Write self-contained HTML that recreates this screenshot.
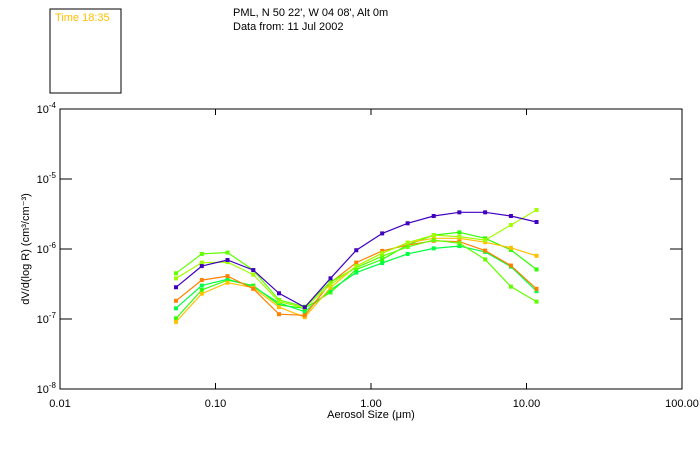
<!DOCTYPE html>
<html><head><meta charset="utf-8"><style>
html,body{margin:0;padding:0;background:#fff;}
svg{display:block;font-family:"Liberation Sans",sans-serif;}
</style></head><body>
<svg id="chart" width="700" height="450">
<rect x="50" y="9" width="71" height="84" fill="none" stroke="#000"/>
<text x="55" y="21" font-size="11" fill="#ffc000">Time 18:35</text>
<text x="233" y="16" font-size="11" fill="#000">PML, N 50 22', W 04 08', Alt 0m</text>
<text x="233" y="30" font-size="11" fill="#000">Data from: 11 Jul 2002</text>
<rect x="60" y="109" width="622" height="280" fill="none" stroke="#000"/>
<g id="axes"></g>
<g id="series"></g>
<text x="371" y="418" font-size="11" text-anchor="middle">Aerosol Size (μm)</text>
<text transform="translate(29,249) rotate(-90)" font-size="11" text-anchor="middle">dV/d(log R) (cm³/cm⁻³)</text>
</svg>
<script>
const sizes=[0.0557,0.0816,0.1195,0.175,0.256,0.375,0.549,0.804,1.18,1.72,2.53,3.70,5.42,7.94,11.6];
const xTicks=[0.01,0.1,1,10,100];
const xTickLabels=["0.01","0.10","1.00","10.00","100.00"];
const yTicks=[1e-4,1e-5,1e-6,1e-7,1e-8];
const yTickExps=["-4","-5","-6","-7","-8"];
const purple=[2.84e-7,5.7e-7,6.97e-7,5.0e-7,2.33e-7,1.47e-7,3.81e-7,9.6e-7,1.67e-6,2.33e-6,2.96e-6,3.34e-6,3.34e-6,2.96e-6,2.43e-6];
const yellowGreen=[3.8e-7,6.4e-7,6.5e-7,4.3e-7,1.77e-7,1.44e-7,3.1e-7,5.7e-7,8.7e-7,1.23e-6,1.58e-6,1.50e-6,1.34e-6,2.20e-6,3.61e-6];
const lime=[4.5e-7,8.5e-7,8.9e-7,5.0e-7,1.87e-7,1.50e-7,3.4e-7,5.4e-7,7.9e-7,1.07e-6,1.34e-6,1.21e-6,7.1e-7,2.9e-7,1.77e-7];
const springGreen=[1.42e-7,3.0e-7,3.7e-7,2.9e-7,1.69e-7,1.27e-7,2.6e-7,4.6e-7,6.3e-7,8.5e-7,1.02e-6,1.10e-6,9.1e-7,5.6e-7,2.5e-7];
const orange=[1.82e-7,3.6e-7,4.1e-7,2.7e-7,1.17e-7,1.13e-7,3.3e-7,6.4e-7,9.4e-7,1.14e-6,1.31e-6,1.27e-6,9.5e-7,5.8e-7,2.7e-7];
const gold=[9.1e-8,2.3e-7,3.3e-7,2.8e-7,1.48e-7,1.06e-7,2.8e-7,5.7e-7,8.7e-7,1.23e-6,1.42e-6,1.42e-6,1.25e-6,1.04e-6,8.0e-7];
const green=[1.02e-7,2.6e-7,3.6e-7,3.0e-7,1.58e-7,1.42e-7,2.4e-7,5.1e-7,7.1e-7,1.14e-6,1.58e-6,1.73e-6,1.42e-6,9.7e-7,5.1e-7];
const seriesList=[[green,"#30ff00","series-green"],[springGreen,"#00ff40","series-spring-green"],[gold,"#ffc000","series-gold"],[orange,"#ff8000","series-orange"],[lime,"#60ff00","series-lime"],[yellowGreen,"#a0ff00","series-yellow-green"],[purple,"#4000c0","series-purple"]];
const NS="http://www.w3.org/2000/svg";
const X0=60,X1=682,Y0=109,Y1=389;
function xs(v){return X0+(Math.log10(v)+2)/4*(X1-X0);}
function ys(v){return Y0+(-4-Math.log10(v))/-4*-(Y1-Y0)/1*-1*-1;}
function ysc(v){return Y0+(-4-Math.log10(v))*-1*(Y1-Y0)/4*-1;}
function yPix(v){return Y0+(-Math.log10(v)-4)*(Y1-Y0)/4;}
const axes=document.getElementById('axes');
function mk(t,a,p){const e=document.createElementNS(NS,t);for(const k in a)e.setAttribute(k,a[k]);p.appendChild(e);return e;}
xTicks.forEach((v,i)=>{
  const x=xs(v);
  if(i>0&&i<xTicks.length-1){
    const t1=mk('line',{x1:x,x2:x,y1:Y1,y2:Y1-6,stroke:'#000'},axes);
    
    
    const t2=mk('line',{x1:x,x2:x,y1:Y0,y2:Y0+6,stroke:'#000'},axes);
    
    
  }
  const lb=mk('text',{x:x,y:Y1+18,'font-size':11,'text-anchor':'middle'},axes);
  lb.textContent=xTickLabels[i];
  
  
});
yTicks.forEach((v,i)=>{
  const y=yPix(v);
  if(i>0&&i<yTicks.length-1){
    const t1=mk('line',{x1:X0,x2:X0+12,y1:y,y2:y,stroke:'#000'},axes);
    
    
    const t2=mk('line',{x1:X1,x2:X1-12,y1:y,y2:y,stroke:'#000'},axes);
    
    
  }
  const lb=mk('text',{x:56,y:y+4,'font-size':11,'text-anchor':'end'},axes);
  lb.innerHTML='10<tspan dy="-5" font-size="8">'+yTickExps[i]+'</tspan>';
  
  
});
const sg=document.getElementById('series');
seriesList.forEach(([vals,col,name])=>{
  const g=mk('g',{},sg);
  
  
  const pts=vals.map((v,i)=>xs(sizes[i]).toFixed(1)+','+yPix(v).toFixed(1)).join(' ');
  const pl=mk('polyline',{points:pts,fill:'none',stroke:col,'stroke-width':1.2},g);
  
  
  vals.forEach((v,i)=>{
    const r=mk('rect',{x:xs(sizes[i])-2,y:yPix(v)-2,width:4,height:4,fill:col},g);
    
    
  });
});
</script>
</body></html>
